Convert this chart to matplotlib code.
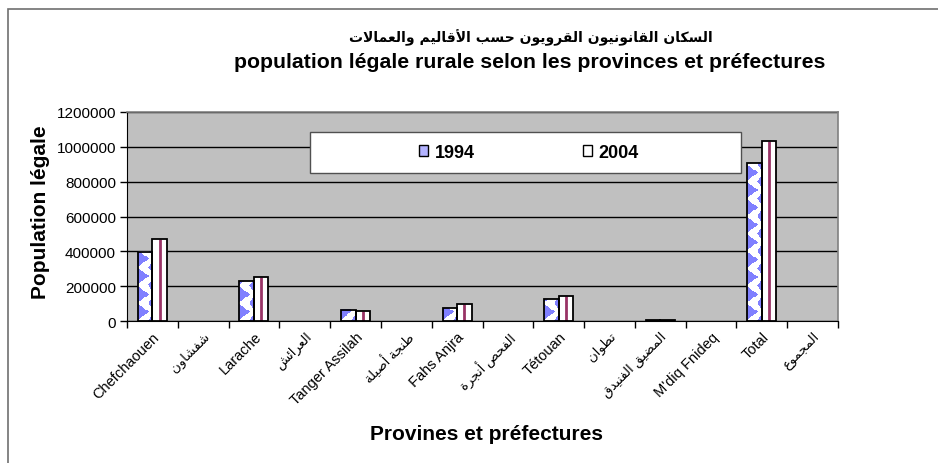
import matplotlib
matplotlib.use("Agg")
import matplotlib.pyplot as plt
from matplotlib.patches import Rectangle, Patch
import numpy as np

plt.rcParams['font.family'] = ['Liberation Sans', 'DejaVu Sans']

# data
categories = ["Chefchaouen", "شفشاون", "Larache", "العرائش", "Tanger Assilah",
              "طنجة أصيلة", "Fahs Anjra", "الفحص أنجرة", "Tétouan", "تطوان",
              "المضيق الفنيدق", "M'diq Fnideq", "Total", "المجموع"]
pop_1994 = [397000, np.nan, 229000, np.nan, 66000, np.nan, 74000, np.nan,
            125000, np.nan, 5000, np.nan, 905000, np.nan]
pop_2004 = [471000, np.nan, 253000, np.nan, 60000, np.nan, 100000, np.nan,
            145000, np.nan, 5000, np.nan, 1036000, np.nan]
years = ["1994", "2004"]
yticks = [0, 200000, 400000, 600000, 800000, 1000000, 1200000]

title_ar = "السكان القانونيون القرويون حسب الأقاليم والعمالات"
title_fr = "population légale rurale selon les provinces et préfectures"

# --- minimal arabic shaping (presentation forms + visual order) ---
FORMS = {
    'ا': (0xFE8D, 0xFE8E, None, None), 'أ': (0xFE83, 0xFE84, None, None),
    'ب': (0xFE8F, 0xFE90, 0xFE91, 0xFE92), 'ة': (0xFE93, 0xFE94, None, None),
    'ت': (0xFE95, 0xFE96, 0xFE97, 0xFE98), 'ج': (0xFE9D, 0xFE9E, 0xFE9F, 0xFEA0),
    'ح': (0xFEA1, 0xFEA2, 0xFEA3, 0xFEA4), 'د': (0xFEA9, 0xFEAA, None, None),
    'ر': (0xFEAD, 0xFEAE, None, None), 'س': (0xFEB1, 0xFEB2, 0xFEB3, 0xFEB4),
    'ش': (0xFEB5, 0xFEB6, 0xFEB7, 0xFEB8), 'ص': (0xFEB9, 0xFEBA, 0xFEBB, 0xFEBC),
    'ض': (0xFEBD, 0xFEBE, 0xFEBF, 0xFEC0), 'ط': (0xFEC1, 0xFEC2, 0xFEC3, 0xFEC4),
    'ع': (0xFEC9, 0xFECA, 0xFECB, 0xFECC), 'ف': (0xFED1, 0xFED2, 0xFED3, 0xFED4),
    'ق': (0xFED5, 0xFED6, 0xFED7, 0xFED8), 'ك': (0xFED9, 0xFEDA, 0xFEDB, 0xFEDC),
    'ل': (0xFEDD, 0xFEDE, 0xFEDF, 0xFEE0), 'م': (0xFEE1, 0xFEE2, 0xFEE3, 0xFEE4),
    'ن': (0xFEE5, 0xFEE6, 0xFEE7, 0xFEE8), 'و': (0xFEED, 0xFEEE, None, None),
    'ي': (0xFEF1, 0xFEF2, 0xFEF3, 0xFEF4), 'ئ': (0xFE89, 0xFE8A, 0xFE8B, 0xFE8C),
}
LAM_ALEF = {'ا': (0xFEFB, 0xFEFC), 'أ': (0xFEF7, 0xFEF8)}


def shape_ar(text):
    if not any(c in FORMS for c in text):
        return text
    out = []
    n = len(text)
    i = 0
    prev_joins = False
    while i < n:
        c = text[i]
        if c not in FORMS:
            out.append(c)
            prev_joins = False
            i += 1
            continue
        if c == 'ل' and i + 1 < n and text[i + 1] in LAM_ALEF:
            iso, fin = LAM_ALEF[text[i + 1]]
            out.append(chr(fin if prev_joins else iso))
            prev_joins = False
            i += 2
            continue
        forms = FORMS[c]
        nxt = text[i + 1] if i + 1 < n else None
        next_ok = forms[2] is not None and nxt in FORMS
        if prev_joins and next_ok:
            f = forms[3]
        elif prev_joins:
            f = forms[1]
        elif next_ok:
            f = forms[2]
        else:
            f = forms[0]
        out.append(chr(f))
        prev_joins = next_ok
        i += 1
    return ''.join(reversed(out))


W, H = 938, 464
fig = plt.figure(figsize=(W / 100, H / 100), dpi=100)

# outer chart border (only top/left visible in the crop)
fig.patches.append(Rectangle((8 / W, -0.1), 1.2, 1 - 10 / H + 0.1, transform=fig.transFigure,
                             fill=False, edgecolor='#707070', lw=1.2))

ax = fig.add_axes([127 / W, (H - 322) / H, 711 / W, 209 / H])
ax.set_facecolor('#c0c0c0')

x = np.arange(len(categories))
bw = 0.285
blue = np.array([0x80, 0x80, 0xff]) / 255.0

b94 = ax.bar(x - bw / 2, pop_1994, bw, color='white', edgecolor='none', zorder=2)
b04 = ax.bar(x + bw / 2, pop_2004, bw, color='white', edgecolor='none', zorder=2)
ax.vlines(x + bw / 2, 0, pop_2004, color='#993366', lw=2, zorder=2.5)

ax.set_xlim(-0.5, len(categories) - 0.5)
ax.set_ylim(0, 1200000)

# blue triangle pattern inside the 1994 bars
P = 17.4
for r in b94:
    h = r.get_height()
    if not np.isfinite(h) or h <= 0:
        continue
    x0, x1 = r.get_x(), r.get_x() + r.get_width()
    (px0, py0), (px1, py1) = ax.transData.transform([(x0, 0), (x1, h)])
    w = max(int(round(px1 - px0)), 1)
    hh = max(int(round(py1 - py0)), 1)
    yy, xx = np.mgrid[0:hh, 0:w]
    yb = (hh - 1 - yy).astype(float)
    ph = (yb % P) / P
    tri_l = np.clip(1 - np.abs(ph - 0.5) * 2 / 0.9, 0, 1)
    ph2 = ((yb + P / 2) % P) / P
    tri_r = np.clip(1 - np.abs(ph2 - 0.5) * 2 / 0.7, 0, 1)
    mask = (xx < 0.7 * w * tri_l) | ((w - 1 - xx) < 0.3 * w * tri_r)
    img = np.ones((hh, w, 3))
    img[mask] = blue
    ax.imshow(img, extent=(x0, x1, 0, h), aspect='auto', interpolation='nearest', zorder=2.4)

ax.bar(x - bw / 2, pop_1994, bw, fill=False, edgecolor='black', lw=1.3, zorder=3)
ax.bar(x + bw / 2, pop_2004, bw, fill=False, edgecolor='black', lw=1.3, zorder=3)
ax.set_xlim(-0.5, len(categories) - 0.5)
ax.set_ylim(0, 1200000)

# axes styling
ax.set_yticks(yticks)
ax.set_yticklabels([str(v) for v in yticks], fontsize=11)
ax.yaxis.grid(True, color='black', lw=1)
ax.set_axisbelow(True)
ax.tick_params(axis='y', length=5, width=1, direction='out', pad=3)
ax.set_xticks(np.arange(-0.5, len(categories), 1.0))
ax.set_xticklabels([])
ax.tick_params(axis='x', which='major', length=5, width=1, direction='out')
ax.set_xticks(x, [shape_ar(c) for c in categories], minor=True)
ax.tick_params(axis='x', which='minor', length=0, pad=6)
for lab, c in zip(ax.get_xticklabels(minor=True), categories):
    lab.set_rotation(45)
    lab.set_ha('right')
    lab.set_va('top')
    lab.set_rotation_mode('anchor')
    lab.set_fontsize(10.5 if shape_ar(c) == c else 9.5)
for s in ['left', 'bottom']:
    ax.spines[s].set_color('black')
for s in ['top', 'right']:
    ax.spines[s].set_color('#808080')
    ax.spines[s].set_linewidth(1.2)

# legend box and entries
ax.add_patch(Rectangle((0.257, 0.708), 0.607, 0.196, transform=ax.transAxes,
                       facecolor='white', edgecolor='#505050', lw=1, zorder=4))
handles = [Patch(facecolor='#b3b3ff', edgecolor='black', lw=1),
           Patch(facecolor='white', edgecolor='black', lw=1)]
leg = ax.legend(handles, years, loc='center', bbox_to_anchor=(0.565, 0.806), ncol=2,
                frameon=False, prop={'weight': 'bold', 'size': 13},
                handlelength=0.5, handleheight=0.5, handletextpad=0.35,
                columnspacing=6.0, borderaxespad=0)
leg.set_zorder(5)

# titles and axis labels
fig.text(531 / W, 1 - 38 / H, shape_ar(title_ar), ha='center', va='center',
         fontsize=10, fontweight='bold', family=['DejaVu Sans'])
fig.text(530 / W, 1 - 63 / H, title_fr, ha='center', va='center',
         fontsize=15.3, fontweight='bold')
fig.text(40 / W, 1 - 212 / H, "Population légale", rotation=90, ha='center', va='center',
         fontsize=15, fontweight='bold')
fig.text(486 / W, 1 - 435 / H, "Provines et préfectures", ha='center', va='center',
         fontsize=15, fontweight='bold')

fig.savefig("out.png", dpi=100)
